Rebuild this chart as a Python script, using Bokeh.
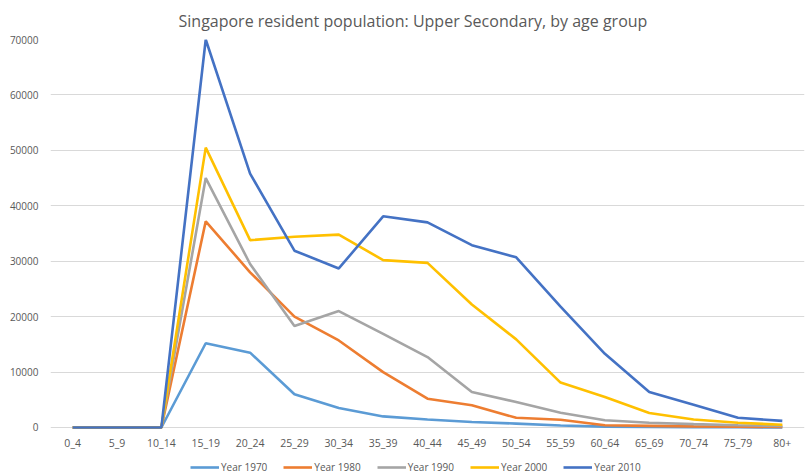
from bokeh.plotting import figure
from bokeh.models import Legend, LegendItem, FactorRange, Range1d, NumeralTickFormatter, FixedTicker, ColumnDataSource
from bokeh.core.properties import value
from bokeh.embed import file_html
from bokeh.resources import INLINE

age_groups = ["0_4", "5_9", "10_14", "15_19", "20_24", "25_29", "30_34", "35_39",
              "40_44", "45_49", "50_54", "55_59", "60_64", "65_69", "70_74", "75_79", "80+"]

year_1970 = [0, 0, 0, 15200, 13500, 6000, 3500, 2000, 1450, 1000, 700, 350, 150, 100, 60, 40, 20]
year_1980 = [0, 0, 0, 37200, 28000, 20000, 15700, 10000, 5200, 4000, 1750, 1400, 400, 300, 200, 150, 100]
year_1990 = [0, 0, 0, 45000, 29500, 18300, 21000, 16900, 12700, 6400, 4600, 2650, 1300, 850, 600, 400, 300]
year_2000 = [0, 0, 0, 50500, 33800, 34400, 34800, 30200, 29700, 22200, 15900, 8100, 5500, 2600, 1450, 850, 500]
year_2010 = [0, 0, 0, 70000, 45800, 31900, 28700, 38100, 37000, 32900, 30700, 21800, 13300, 6400, 4100, 1750, 1200]

series_names = ["Year 1970", "Year 1980", "Year 1990", "Year 2000", "Year 2010"]
series_values = [year_1970, year_1980, year_1990, year_2000, year_2010]
series_colors = ["#5B9BD5", "#ED7D31", "#A5A5A5", "#FFC000", "#4472C4"]

y_ticks = [0, 10000, 20000, 30000, 40000, 50000, 60000, 70000]

FONT = "Open Sans"
TXT = "#595959"

# frame extends below the zero line so the legend and category labels sit inside it
Y_MAX = 70000
Y_MIN = -8480

p = figure(width=807, height=474, x_range=FactorRange(*age_groups, range_padding=0),
           y_range=Range1d(Y_MIN, Y_MAX), output_backend="svg", toolbar_location=None,
           x_axis_location=None,
           title="Singapore resident population: Upper Secondary, by age group",
           min_border_left=50, min_border_right=3, min_border_top=39, min_border_bottom=0)

p.title.align = "left"
p.title.offset = 128
p.title.text_font = FONT
p.title.text_font_size = "16px"
p.title.text_font_style = "normal"
p.title.text_color = TXT
p.title.standoff = 15

p.outline_line_color = None
p.xgrid.grid_line_color = None
p.ygrid.grid_line_color = "#D9D9D9"
p.ygrid.grid_line_width = 1
p.ygrid.ticker = FixedTicker(ticks=y_ticks)

p.yaxis.ticker = FixedTicker(ticks=y_ticks)
p.yaxis.formatter = NumeralTickFormatter(format="0")
p.yaxis.axis_line_color = None
p.yaxis.major_tick_line_color = None
p.yaxis.minor_tick_line_color = None
p.yaxis.major_tick_out = 0
p.yaxis.major_tick_in = 0
p.yaxis.major_label_standoff = 12
p.yaxis.major_label_text_font = FONT
p.yaxis.major_label_text_font_size = "10px"
p.yaxis.major_label_text_color = TXT

# category labels under the zero line
label_src = ColumnDataSource(dict(x=age_groups, y=[0] * len(age_groups), t=age_groups))
p.text(x="x", y="y", text="t", source=label_src, y_offset=16,
       text_align="center", text_baseline="middle",
       text_font=value(FONT), text_font_size="10.5px", text_color=TXT)

renderers = []
for name, vals, col in zip(series_names, series_values, series_colors):
    r = p.line(age_groups, vals, line_color=col, line_width=2.6)
    renderers.append((name, r))

legend = Legend(items=[LegendItem(label=n, renderers=[r]) for n, r in renderers],
                orientation="horizontal", location=(140, 0),
                label_text_font=FONT, label_text_font_size="10px", label_text_color=TXT,
                glyph_width=29, glyph_height=10, spacing=16, label_standoff=2,
                border_line_color=None, background_fill_alpha=0, margin=0, padding=2)
p.add_layout(legend, "center")

open("out.html", "w").write(file_html(p, INLINE))
